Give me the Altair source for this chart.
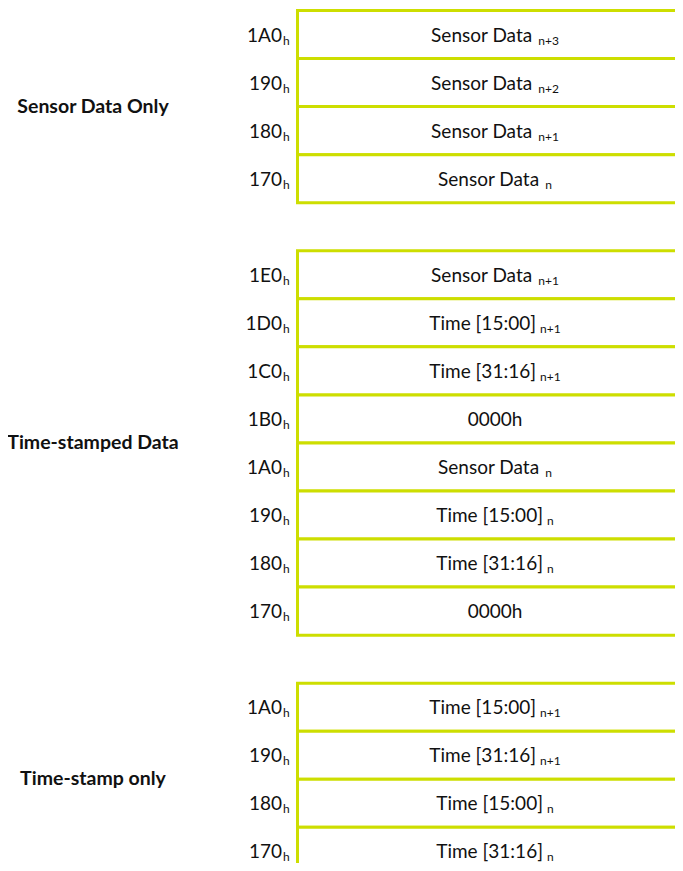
import altair as alt
import pandas as pd

# ---- data ----
groups = ["Sensor Data Only", "Time-stamped Data", "Time-stamp only"]

addr_1 = ["1A0", "190", "180", "170"]
main_1 = ["Sensor Data", "Sensor Data", "Sensor Data", "Sensor Data"]
sub_1 = ["n+3", "n+2", "n+1", "n"]

addr_2 = ["1E0", "1D0", "1C0", "1B0", "1A0", "190", "180", "170"]
main_2 = ["Sensor Data", "Time [15:00]", "Time [31:16]", "0000h",
          "Sensor Data", "Time [15:00]", "Time [31:16]", "0000h"]
sub_2 = ["n+1", "n+1", "n+1", "", "n", "n", "n", ""]

addr_3 = ["1A0", "190", "180", "170"]
main_3 = ["Time [15:00]", "Time [31:16]", "Time [15:00]", "Time [31:16]"]
sub_3 = ["n+1", "n+1", "n", "n"]

addr_suffix = "h"

# ---- styling ----
LINE = "#CDDE00"
TEXT = "#111111"
FONT = "Lato"
MAIN_SIZE = 19
SUB_SIZE = 12
W, H = 667, 855
CELL_CX = 487      # centre of the cell text column (px)
SUB_GAP = 6

# approximate Lato advance widths (em) used to centre text + subscript
_w = {' ': 0.193, 'S': 0.53, 'e': 0.53, 'n': 0.56, 's': 0.43, 'o': 0.57, 'r': 0.38,
      'D': 0.77, 'a': 0.50, 't': 0.36, 'T': 0.56, 'i': 0.24, 'm': 0.83, '[': 0.30,
      ']': 0.30, ':': 0.24, 'h': 0.55, '+': 0.58}


def text_width(s, size):
    return sum(_w.get(c, 0.58) for c in s) * size


rows = []
grows = []
slot = 0
for g, (addrs, mains, subs) in zip(groups, [(addr_1, main_1, sub_1),
                                            (addr_2, main_2, sub_2),
                                            (addr_3, main_3, sub_3)]):
    start = slot
    for a, m, s in zip(addrs, mains, subs):
        wm = text_width(m, MAIN_SIZE)
        ws = text_width(s, SUB_SIZE) if s else 0
        total = wm + (SUB_GAP + ws if s else 0)
        xm = CELL_CX - total / 2
        rows.append({"group": g, "slot": slot, "slot_end": slot + 1, "mid": slot + 0.5,
                     "addr": a, "suffix": addr_suffix, "main": m, "sub": s,
                     "x_main": xm, "x_sub": xm + wm + SUB_GAP})
        slot += 1
    grows.append({"group": g, "mid": (start + slot) / 2})
    slot += 1  # blank slot between groups

cells = pd.DataFrame(rows)
glabels = pd.DataFrame(grows)

n_slots = slot - 1
yscale = alt.Scale(domain=[0, n_slots], range=[2.5, 2.5 + 48.05 * n_slots])
xscale = alt.Scale(domain=[0, W], range=[0, W])

base = alt.Chart(cells)

boxes = base.mark_rect(fill="white", stroke=LINE, strokeWidth=3).encode(
    x=alt.value(289.5), x2=alt.value(720),
    y=alt.Y("slot:Q", scale=yscale, axis=None), y2="slot_end:Q")

main_txt = base.mark_text(align="left", baseline="alphabetic", dy=7, font=FONT,
                          fontSize=MAIN_SIZE, color=TEXT).encode(
    x=alt.X("x_main:Q", scale=xscale, axis=None),
    y=alt.Y("mid:Q", scale=yscale, axis=None), text="main:N")

sub_txt = base.mark_text(align="left", baseline="alphabetic", dy=10, font=FONT,
                         fontSize=SUB_SIZE, color=TEXT).encode(
    x=alt.X("x_sub:Q", scale=xscale, axis=None),
    y=alt.Y("mid:Q", scale=yscale, axis=None), text="sub:N")

addr_txt = base.mark_text(align="right", baseline="alphabetic", dy=7, font=FONT,
                          fontSize=MAIN_SIZE, color=TEXT).encode(
    x=alt.value(274), y=alt.Y("mid:Q", scale=yscale, axis=None), text="addr:N")

addr_sub = base.mark_text(align="left", baseline="alphabetic", dy=10, font=FONT,
                          fontSize=SUB_SIZE, color=TEXT).encode(
    x=alt.value(275), y=alt.Y("mid:Q", scale=yscale, axis=None), text="suffix:N")

grp_txt = alt.Chart(glabels).mark_text(align="center", baseline="alphabetic", dy=6,
                                       font=FONT, fontSize=19.5, fontWeight="bold",
                                       color=TEXT).encode(
    x=alt.value(85), y=alt.Y("mid:Q", scale=yscale, axis=None), text="group:N")

chart = alt.layer(boxes, main_txt, sub_txt, addr_txt, addr_sub, grp_txt).properties(
    width=W, height=H, padding=0,
    autosize=alt.AutoSizeParams(type="none"),
).configure_view(stroke=None)

chart.save("out.html", embed_options={"renderer": "svg", "actions": False})
